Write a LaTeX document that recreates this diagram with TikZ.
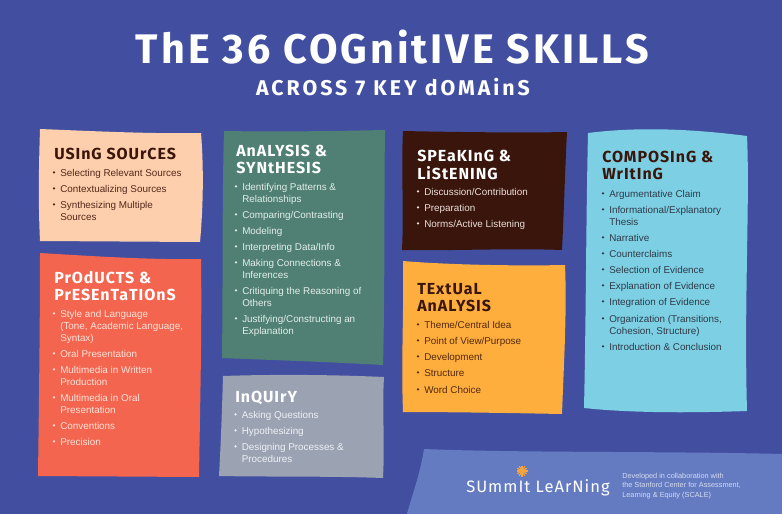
\documentclass[tikz,border=0pt]{standalone}
\usepackage{fontspec}
\setmainfont{Liberation Sans}
\newfontfamily\headfont[LetterSpace=6]{Fira Sans}
\newfontfamily\titlefont[LetterSpace=7.2]{Fira Sans}
\newfontfamily\subfont[LetterSpace=14]{Fira Sans}

\definecolor{bgblue}{HTML}{424FA0}
\definecolor{footblue}{HTML}{647BC2}
\definecolor{peachbox}{HTML}{FDCFAC}
\definecolor{redbox}{HTML}{F4654F}
\definecolor{greenbox}{HTML}{4F8073}
\definecolor{greybox}{HTML}{9BA3B3}
\definecolor{brownbox}{HTML}{3A150B}
\definecolor{orangebox}{HTML}{FDAE3C}
\definecolor{cyanbox}{HTML}{7DD0E4}
\definecolor{darkhead}{HTML}{3A150B}
\definecolor{peachtext}{HTML}{54291C}
\definecolor{redtext}{HTML}{FDE3DA}
\definecolor{greentext}{HTML}{E3EEEA}
\definecolor{greytext}{HTML}{EEF0F4}
\definecolor{browntext}{HTML}{EADFDA}
\definecolor{orangetext}{HTML}{54290F}
\definecolor{cyantext}{HTML}{2F3A48}
\definecolor{footgrey}{HTML}{D5DCEE}
\definecolor{sunorange}{HTML}{F5A53A}

\tikzset{
  skilltext/.style={anchor=base west,inner sep=0pt,
    font=\fontsize{7.4pt}{9pt}\selectfont},
  headtext/.style={anchor=base west,inner sep=0pt,
    font=\headfont\bfseries\fontsize{12pt}{13.2pt}\selectfont},
  foottext/.style={anchor=base west,inner sep=0pt,color=footgrey,
    font=\fontsize{5.5pt}{7pt}\selectfont},
}
\newcommand{\toplines}[1]{\begin{tabular}[t]{@{}l@{}}#1\end{tabular}}
\newcommand{\skill}[4]{%
  \node[skilltext] (#1) at (#2,#3) {\toplines{#4}};
  \fill (#2-6,#3-3.6) circle (1.25);
}

\begin{document}
\begin{tikzpicture}[x=0.75pt,y=-0.75pt]
  \fill[bgblue] (0,0) rectangle (782,514);
  \useasboundingbox (0,0) rectangle (782,514);

  \node[inner sep=0pt,anchor=base,white,font=\titlefont\bfseries\fontsize{31pt}{34pt}\selectfont] (title) at (392.5,63) {ThE 36 COGnitIVE SKILLS};
  \node[inner sep=0pt,anchor=base,white,font=\subfont\bfseries\fontsize{16pt}{18pt}\selectfont] (subtitle) at (393,95) {ACROSS 7 KEY dOMAinS};

  % boxes
  \fill[peachbox] (40,129) .. controls (90,131) and (150,134) .. (201,133) .. controls (204,170) and (203,210) .. (200,242) -- (40,241) .. controls (38,200) and (39,160) .. (40,129);
  \fill[redbox] (40,253) .. controls (90,256) and (150,260) .. (201,259) .. controls (202,330) and (200,410) .. (199,477) -- (38,476) .. controls (39,400) and (40,320) .. (40,253);
  \fill[greenbox] (224,131) .. controls (280,132) and (340,131) .. (385,130) .. controls (384,200) and (385,290) .. (383,365) .. controls (330,362) and (270,360) .. (222,358) .. controls (223,280) and (222,200) .. (224,131);
  \fill[greybox] (223,376) .. controls (280,374) and (340,375) .. (384,377) .. controls (382,410) and (385,440) .. (383,478) .. controls (330,476) and (270,477) .. (219,476) .. controls (221,440) and (222,410) .. (223,376);
  \fill[brownbox] (403,131) .. controls (450,132) and (520,133) .. (567,132) .. controls (565,170) and (564,210) .. (562,250) .. controls (510,248) and (450,251) .. (402,250) .. controls (404,210) and (401,170) .. (403,131);
  \fill[orangebox] (403,261) .. controls (450,265) and (520,266) .. (565,265) .. controls (567,310) and (564,360) .. (562,414) .. controls (510,413) and (450,412) .. (403,412) .. controls (401,360) and (404,310) .. (403,261);
  \fill[cyanbox] (588,133) .. controls (620,129) and (670,126) .. (747,136) .. controls (750,200) and (744,300) .. (747,411) .. controls (690,413) and (630,413) .. (584,408) .. controls (586,320) and (586,220) .. (588,133);
  \fill[footblue] (424,449) .. controls (520,453) and (660,451) .. (782,454) -- (782,514) -- (407,514) .. controls (412,495) and (420,475) .. (424,449);

  % using sources
  \node[headtext,darkhead] (usinghead) at (54,159) {\toplines{USInG SOUrCES}};
  \begin{scope}[color=peachtext]
    \skill{sel}{60}{176}{Selecting Relevant Sources}
    \skill{con}{60}{192}{Contextualizing Sources}
    \skill{syn}{60}{208}{Synthesizing Multiple\\Sources}
  \end{scope}

  % products
  \node[headtext,white] (prodhead) at (54,283) {\toplines{PrOdUCTS \&\\PrESEnTaTIOnS}};
  \begin{scope}[color=redtext]
    \skill{sty}{60}{317}{Style and Language\\(Tone, Academic Language,\\Syntax)}
    \skill{ora}{60}{357}{Oral Presentation}
    \skill{mwr}{60}{373}{Multimedia in Written\\Production}
    \skill{mor}{60}{401}{Multimedia in Oral\\Presentation}
    \skill{cnv}{60}{429}{Conventions}
    \skill{pre}{60}{445}{Precision}
  \end{scope}

  % analysis
  \node[headtext,white] (anahead) at (236,156) {\toplines{AnALYSIS \&\\SYNtHESIS}};
  \begin{scope}[color=greentext]
    \skill{ide}{242}{190}{Identifying Patterns \&\\Relationships}
    \skill{cmp}{242}{218}{Comparing/Contrasting}
    \skill{mod}{242}{234}{Modeling}
    \skill{int}{242}{250}{Interpreting Data/Info}
    \skill{mak}{242}{266}{Making Connections \&\\Inferences}
    \skill{cri}{242}{294}{Critiquing the Reasoning of\\Others}
    \skill{jus}{242}{322}{Justifying/Constructing an\\Explanation}
  \end{scope}

  % inquiry
  \node[headtext,white] (inqhead) at (235,402) {\toplines{InQUIrY}};
  \begin{scope}[color=greytext]
    \skill{ask}{241.5}{418}{Asking Questions}
    \skill{hyp}{241.5}{434}{Hypothesizing}
    \skill{des}{241.5}{450}{Designing Processes \&\\Procedures}
  \end{scope}

  % speaking
  \node[headtext,white] (spehead) at (417,161) {\toplines{SPEaKInG \&\\LiStENING}};
  \begin{scope}[color=browntext]
    \skill{dis}{424}{195}{Discussion/Contribution}
    \skill{prp}{424}{211}{Preparation}
    \skill{nor}{424}{227}{Norms/Active Listening}
  \end{scope}

  % textual
  \node[headtext,darkhead] (texhead) at (417,294) {\toplines{TExtUaL\\AnALYSIS}};
  \begin{scope}[color=orangetext]
    \skill{the}{424}{328}{Theme/Central Idea}
    \skill{poi}{424}{344}{Point of View/Purpose}
    \skill{dev}{424}{360}{Development}
    \skill{str}{424}{376}{Structure}
    \skill{wor}{424}{393}{Word Choice}
  \end{scope}

  % composing
  \node[headtext,darkhead] (comhead) at (602,162) {\toplines{COMPOSInG \&\\WrItInG}};
  \begin{scope}[color=cyantext]
    \skill{arg}{609}{197}{Argumentative Claim}
    \skill{inf}{609}{213}{Informational/Explanatory\\Thesis}
    \skill{nar}{609}{241}{Narrative}
    \skill{cou}{609}{257}{Counterclaims}
    \skill{sle}{609}{273}{Selection of Evidence}
    \skill{exp}{609}{289}{Explanation of Evidence}
    \skill{itg}{609}{305}{Integration of Evidence}
    \skill{org}{609}{322}{Organization (Transitions,\\Cohesion, Structure)}
    \skill{itr}{609}{350}{Introduction \& Conclusion}
  \end{scope}

  % footer
  \foreach \a in {0,30,...,330}
    \draw[sunorange,line width=0.9pt] (522,471) -- ++(\a:5.5);
  \node[inner sep=0pt,anchor=base west,white,font=\headfont\fontsize{12.4pt}{15pt}\selectfont] (logo) at (466,492) {SUmmIt LeArNing};
  \node[foottext] (devel) at (622,478.5) {\toplines{Developed in collaboration with\\the Stanford Center for Assessment,\\Learning \& Equity (SCALE)}};
\end{tikzpicture}
\end{document}
